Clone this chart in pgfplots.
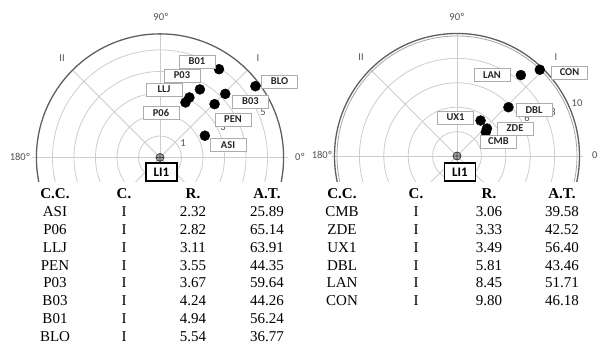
\documentclass[border=0pt]{standalone}
\usepackage{fontspec}
\setmainfont{Liberation Serif}
\newfontfamily\carl{Carlito}
\usepackage{pgfplots}
\pgfplotsset{compat=1.18}
\definecolor{gridc}{RGB}{205,205,205}
\definecolor{outerc}{RGB}{95,95,95}
\definecolor{labc}{RGB}{80,80,80}
\begin{document}
\begin{tikzpicture}
\useasboundingbox (0pt,0pt) rectangle (598pt,344pt);
% ---------------- left polar chart ----------------
\begin{axis}[at={(0pt,162pt)}, anchor=south west, x=21.5pt, y=21.5pt,
  xmin=-7.442, xmax=6.512, ymin=-1.14, ymax=7.326, hide axis, clip=true]
\draw[gridc, line width=0.8pt] (axis cs:0,0) circle[radius=21.5pt];
\draw[gridc, line width=0.8pt] (axis cs:0,0) circle[radius=43pt];
\draw[gridc, line width=0.8pt] (axis cs:0,0) circle[radius=64.5pt];
\draw[gridc, line width=0.8pt] (axis cs:0,0) circle[radius=86pt];
\draw[gridc, line width=0.8pt] (axis cs:0,0) circle[radius=107.5pt];
\draw[gridc, line width=0.8pt] (axis cs:-5.95,0) -- (axis cs:5.95,0);
\draw[gridc, line width=0.8pt] (axis cs:0,-5.75) -- (axis cs:0,5.75);
\draw[gridc, line width=0.8pt] (axis cs:-4.066,-4.066) -- (axis cs:4.066,4.066);
\draw[gridc, line width=0.8pt] (axis cs:-4.066,4.066) -- (axis cs:4.066,-4.066);
\draw[outerc, line width=1.3pt] (axis cs:0,0) circle[radius=123.6pt];
\addplot[only marks, mark=*, mark size=5pt, black, data cs=polar] coordinates {
 (25.89,2.32) (65.14,2.82) (63.91,3.11) (44.35,3.55) (59.64,3.67) (44.26,4.24) (56.24,4.94) (36.77,5.54)};
\addplot[only marks, mark=oplus*, mark size=4pt, mark options={fill=gray!70, draw=black!75, line width=0.8pt}] coordinates {(0,0)};
\end{axis}
% ---------------- right polar chart ----------------
\begin{axis}[at={(300pt,162pt)}, anchor=south west, x=12.2pt, y=12.2pt,
  xmin=-12.869, xmax=11.557, ymin=-2.131, ymax=12.787, hide axis, clip=true]
\draw[gridc, line width=0.8pt] (axis cs:0,0) circle[radius=24.4pt];
\draw[gridc, line width=0.8pt] (axis cs:0,0) circle[radius=48.8pt];
\draw[gridc, line width=0.8pt] (axis cs:0,0) circle[radius=73.2pt];
\draw[gridc, line width=0.8pt] (axis cs:0,0) circle[radius=97.6pt];
\draw[gridc, line width=0.8pt] (axis cs:-10.3,0) -- (axis cs:10.3,0);
\draw[gridc, line width=0.8pt] (axis cs:0,-10) -- (axis cs:0,10);
\draw[gridc, line width=0.8pt] (axis cs:-7.071,-7.071) -- (axis cs:7.071,7.071);
\draw[gridc, line width=0.8pt] (axis cs:-7.071,7.071) -- (axis cs:7.071,-7.071);
\draw[gray!70, line width=0.8pt] (axis cs:0,0) circle[radius=120pt];
\draw[outerc, line width=1.3pt] (axis cs:0,0) circle[radius=122.5pt];
\addplot[only marks, mark=*, mark size=5pt, black, data cs=polar] coordinates {
 (39.58,3.06) (42.52,3.33) (56.40,3.49) (43.46,5.81) (51.71,8.45) (46.18,9.80)};
\addplot[only marks, mark=oplus*, mark size=4pt, mark options={fill=gray!70, draw=black!75, line width=0.8pt}] coordinates {(0,0)};
\end{axis}
% ---------------- labels ----------------
\begin{scope}[x=1pt, y=1pt,
  al/.style={text=labc, font=\carl\fontsize{10.5}{12}\selectfont, inner sep=0pt},
  bx/.style={draw=gray!65, fill=white, line width=0.8pt, minimum width=36pt, minimum height=13pt, inner sep=0pt, text=black!85, font=\carl\bfseries\fontsize{10.5}{12}\selectfont},
  li/.style={draw=black, fill=white, line width=1.4pt, minimum width=31pt, minimum height=18pt, inner sep=0pt, font=\carl\bfseries\fontsize{13}{14}\selectfont},
  tc/.style={font=\fontsize{15}{17}\selectfont, inner sep=0pt, anchor=base}]
% left angle labels
\node[al] at (161,327) {90º};
\node[al] at (62,286) {II};
\node[al] at (258,286) {I};
\node[al] at (20,187) {180º};
\node[al, anchor=west] at (295,187) {0º};
\node[al] at (183,201) {1};
\node[al] at (223,217) {3};
\node[al] at (263,232) {5};
% right angle labels
\node[al] at (457,327) {90º};
\node[al] at (361,287) {II};
\node[al] at (556,287) {I};
\node[al] at (322,189) {180º};
\node[al, anchor=west] at (592,189) {0º};
\node[al] at (577,241) {10};
\node[al] at (553,232) {8};
\node[al] at (527,226) {6};
% left boxes
\node[bx] at (197,282.5) {B01};
\node[bx] at (182,268.5) {P03};
\node[bx] at (164,254.5) {LLJ};
\node[bx] at (161,231.5) {P06};
\node[bx] at (279.5,262.5) {BLO};
\node[bx] at (250.5,242.5) {B03};
\node[bx] at (233,224.5) {PEN};
\node[bx] at (228,199) {ASI};
\node[li] at (161.5,172) {LI1};
% right boxes
\node[bx] at (492,269) {LAN};
\node[bx] at (569.5,271.5) {CON};
\node[bx] at (534,234) {DBL};
\node[bx] at (455.5,226.5) {UX1};
\node[bx] at (515,215.5) {ZDE};
\node[bx] at (498.5,202.5) {CMB};
\node[li] at (460,172) {LI1};
% left table
\node[tc] at (55,145) {\bfseries C.C.};
\node[tc] at (124,145) {\bfseries C.};
\node[tc] at (193,145) {\bfseries R.};
\node[tc] at (267,145) {\bfseries A.T.};
\foreach \a/\b/\c/\d [count=\i] in {ASI/I/2.32/25.89, P06/I/2.82/65.14, LLJ/I/3.11/63.91, PEN/I/3.55/44.35, P03/I/3.67/59.64, B03/I/4.24/44.26, B01/I/4.94/56.24, BLO/I/5.54/36.77}{
  \node[tc] at (55,{145-17.8*\i}) {\a};
  \node[tc] at (124,{145-17.8*\i}) {\b};
  \node[tc] at (193,{145-17.8*\i}) {\c};
  \node[tc] at (267,{145-17.8*\i}) {\d};
}
% right table
\node[tc] at (342,145) {\bfseries C.C.};
\node[tc] at (416,145) {\bfseries C.};
\node[tc] at (489,145) {\bfseries R.};
\node[tc] at (562,145) {\bfseries A.T.};
\foreach \a/\b/\c/\d [count=\i] in {CMB/I/3.06/39.58, ZDE/I/3.33/42.52, UX1/I/3.49/56.40, DBL/I/5.81/43.46, LAN/I/8.45/51.71, CON/I/9.80/46.18}{
  \node[tc] at (342,{145-17.8*\i}) {\a};
  \node[tc] at (416,{145-17.8*\i}) {\b};
  \node[tc] at (489,{145-17.8*\i}) {\c};
  \node[tc] at (562,{145-17.8*\i}) {\d};
}
\end{scope}
\end{tikzpicture}
\end{document}
